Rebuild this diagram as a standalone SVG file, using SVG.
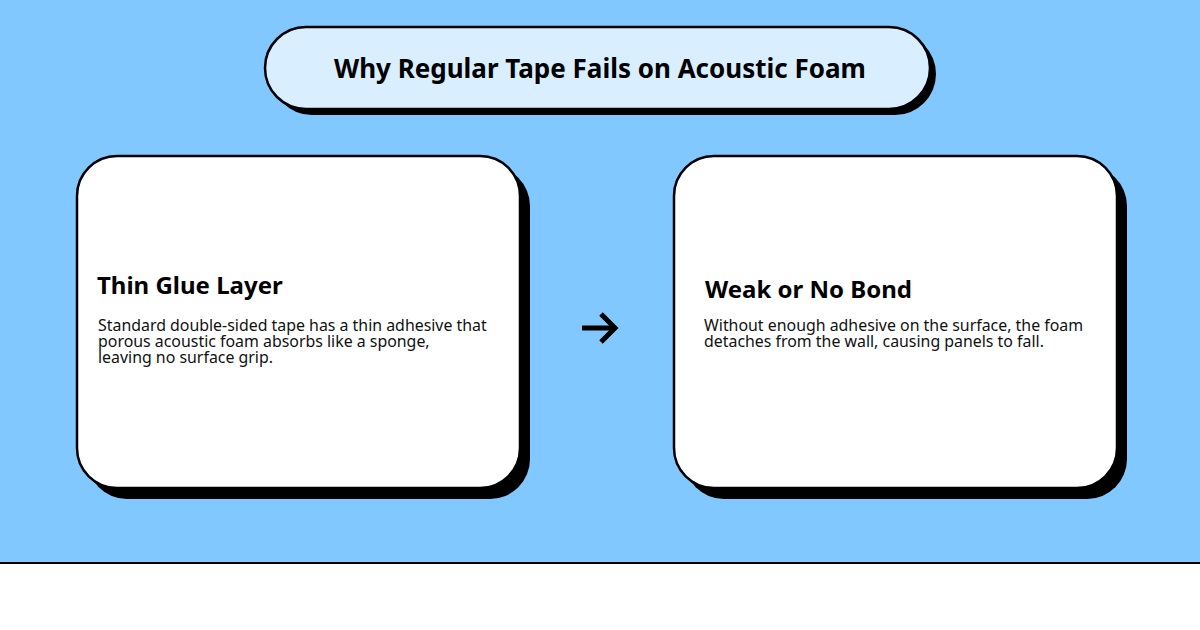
<svg xmlns="http://www.w3.org/2000/svg" width="1200" height="630" viewBox="0 0 1200 630">
<style>
.sh{fill:#000}
.card{fill:#fff;stroke:#000;stroke-width:2.5}
.h{font-family:"Noto Sans",sans-serif;font-weight:bold;fill:#000}
.b{font-family:"Noto Sans",sans-serif;font-size:15.9px;fill:#111}
</style>
<rect x="0" y="0" width="1200" height="630" fill="#fff"/>
<rect x="0" y="0" width="1200" height="563" fill="#80c8ff"/>
<line x1="0" y1="563" x2="1200" y2="563" stroke="#000" stroke-width="2"/>
<g id="title">
<rect class="sh" x="271" y="33" width="665" height="82" rx="41"/>
<rect x="265" y="27" width="665" height="82" rx="41" fill="#d9eeff" stroke="#000" stroke-width="2.5"/>
<text class="h" x="600" y="78" font-size="26" text-anchor="middle">Why Regular Tape Fails on Acoustic Foam</text>
</g>
<g id="card1">
<rect class="sh" x="87" y="166" width="443" height="333" rx="40"/>
<rect class="card" x="77" y="156" width="443" height="332" rx="40"/>
<text class="h" x="97" y="294" font-size="24">Thin Glue Layer</text>
<text class="b" x="98" y="331">Standard double-sided tape has a thin adhesive that</text>
<text class="b" x="98" y="347">porous acoustic foam absorbs like a sponge,</text>
<text class="b" x="98" y="363">leaving no surface grip.</text>
</g>
<g id="card2">
<rect class="sh" x="684" y="166" width="443" height="333" rx="40"/>
<rect class="card" x="674" y="156" width="443" height="332" rx="40"/>
<text class="h" x="705" y="298" font-size="24">Weak or No Bond</text>
<text class="b" x="704" y="331">Without enough adhesive on the surface, the foam</text>
<text class="b" x="704" y="347">detaches from the wall, causing panels to fall.</text>
</g>
<g id="connectors" fill="none" stroke="#000" stroke-width="5">
<path d="M582 328 H614"/>
<path d="M601 314 L615 328 L601 342"/>
</g>
</svg>
